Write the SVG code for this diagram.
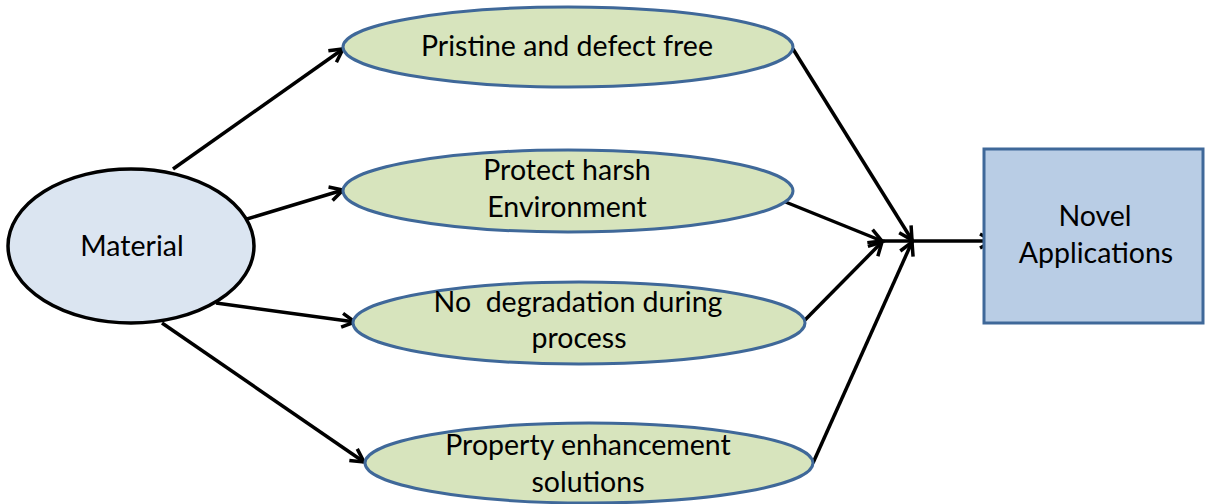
<svg xmlns="http://www.w3.org/2000/svg" width="1205" height="504" viewBox="0 0 1205 504">
<style>
.t{font-family:Lato,"Open Sans","Liberation Sans",sans-serif;font-size:28.5px;fill:#000;text-anchor:middle}
.g{fill:#d7e4bd;stroke:#3f6899;stroke-width:3}
.c{fill:none;stroke:#000;stroke-width:3.5}
</style>
<defs>
<marker id="arr" viewBox="-16 -10 20 20" refX="0" refY="0" markerWidth="20" markerHeight="20" markerUnits="userSpaceOnUse" orient="auto" overflow="visible">
<path d="M-13,-7 L0,0 L-13,7" fill="none" stroke="#000" stroke-width="3.5"/>
</marker>
</defs>
<rect width="1205" height="504" fill="#fff"/>
<g id="connectors" class="c">
<line x1="173" y1="169" x2="343" y2="49" marker-end="url(#arr)"/>
<line x1="247" y1="219" x2="343" y2="190" marker-end="url(#arr)"/>
<line x1="216" y1="303" x2="355" y2="322" marker-end="url(#arr)"/>
<line x1="162" y1="323" x2="364" y2="462" marker-end="url(#arr)"/>
<line x1="793" y1="49" x2="912" y2="240" marker-end="url(#arr)"/>
<line x1="783" y1="201" x2="882" y2="241" marker-end="url(#arr)"/>
<line x1="803" y1="322" x2="882" y2="242" marker-end="url(#arr)"/>
<line x1="813" y1="463" x2="912" y2="242" marker-end="url(#arr)"/>
<line x1="882" y1="241" x2="993" y2="241" marker-end="url(#arr)"/>
</g>
<g id="material">
<ellipse cx="131" cy="246" rx="123" ry="77" fill="#dbe5f1" stroke="#000" stroke-width="3.5"/>
<text class="t" x="132" y="256">Material</text>
</g>
<g id="pristine">
<ellipse class="g" cx="568" cy="47" rx="225" ry="40"/>
<text class="t" x="567" y="56">Pristine and defect free</text>
</g>
<g id="protect">
<ellipse class="g" cx="568" cy="191" rx="225" ry="41"/>
<text class="t" x="567" y="180">Protect harsh</text>
<text class="t" x="567" y="217">Environment</text>
</g>
<g id="nodegradation">
<ellipse class="g" cx="579" cy="323" rx="226" ry="41"/>
<text class="t" x="578" y="312" style="white-space:pre">No  degradation during</text>
<text class="t" x="579" y="348">process</text>
</g>
<g id="property">
<ellipse class="g" cx="589" cy="463" rx="224" ry="40"/>
<text class="t" x="588" y="455">Property enhancement</text>
<text class="t" x="588" y="492">solutions</text>
</g>
<g id="novel">
<rect x="984" y="149" width="219" height="174" fill="#b9cde5" stroke="#3f6899" stroke-width="3"/>
<text class="t" x="1095" y="226">Novel</text>
<text class="t" x="1096" y="263">Applications</text>
</g>
</svg>
